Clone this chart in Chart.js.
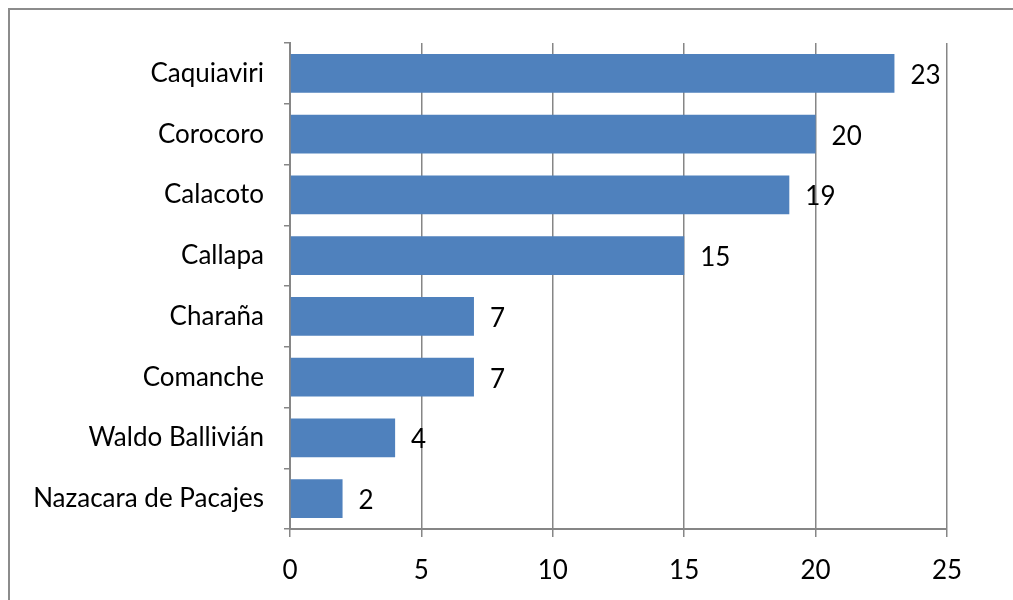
<!DOCTYPE html>
<html>
<head>
<meta charset="utf-8">
<script src="https://cdn.jsdelivr.net/npm/chart.js@4"></script>
<style>
  body { margin: 0; background: #fff; overflow: hidden; }
  #wrap { position: relative; width: 1013px; height: 600px; }
  #frame { position: absolute; left: 8px; top: 8px; width: 1100px; height: 700px; border: 2px solid #8c8c8c; }
  canvas { position: absolute; left: 0; top: 0; }
</style>
</head>
<body>
<div id="wrap">
  <div id="frame"></div>
  <canvas id="myChart" width="1013" height="600"></canvas>
</div>
<script>
// datos del grafico
const municipios = ["Caquiaviri", "Corocoro", "Calacoto", "Callapa", "Charaña", "Comanche", "Waldo Ballivián", "Nazacara de Pacajes"];
const valores = [23, 20, 19, 15, 7, 7, 4, 2];
const xTicks = [0, 5, 10, 15, 20, 25];

const fuente = "Lato, 'Open Sans', sans-serif";
const gris = "#868686";

// etiquetas de valor a la derecha de cada barra
const valueLabels = {
  id: "valueLabels",
  afterDatasetsDraw(chart) {
    const ctx = chart.ctx;
    const meta = chart.getDatasetMeta(0);
    ctx.save();
    ctx.font = "26px " + fuente;
    ctx.fillStyle = "#000";
    ctx.textBaseline = "middle";
    ctx.textAlign = "left";
    meta.data.forEach(function (bar, i) {
      ctx.fillText(String(valores[i]), bar.x + 16, bar.y + 2);
    });
    ctx.restore();
  }
};

new Chart(document.getElementById("myChart"), {
  type: "bar",
  data: {
    labels: municipios,
    datasets: [{
      data: valores,
      backgroundColor: "#4F81BD",
      borderWidth: 0,
      categoryPercentage: 1,
      barPercentage: 0.64
    }]
  },
  options: {
    indexAxis: "y",
    responsive: false,
    animation: false,
    layout: { padding: { top: 43, right: 66, left: 0, bottom: 0 } },
    plugins: { legend: { display: false }, tooltip: { enabled: false } },
    scales: {
      x: {
        min: 0,
        max: 25,
        afterBuildTicks(scale) { scale.ticks = xTicks.map(v => ({ value: v })); },
        afterFit(scale) { scale.height = 71; },
        border: { color: gris, width: 2 },
        grid: { color: gris, lineWidth: 1.5, tickLength: 8 },
        ticks: { color: "#000", font: { family: fuente, size: 26 }, padding: 18 }
      },
      y: {
        afterFit(scale) { scale.width = 290; },
        border: { color: gris, width: 2 },
        grid: { offset: true, drawOnChartArea: false, color: gris, lineWidth: 1.5, tickLength: 6 },
        ticks: { color: "#000", font: { family: fuente, size: 26 }, padding: 20 }
      }
    }
  },
  plugins: [valueLabels]
});
</script>
</body>
</html>
